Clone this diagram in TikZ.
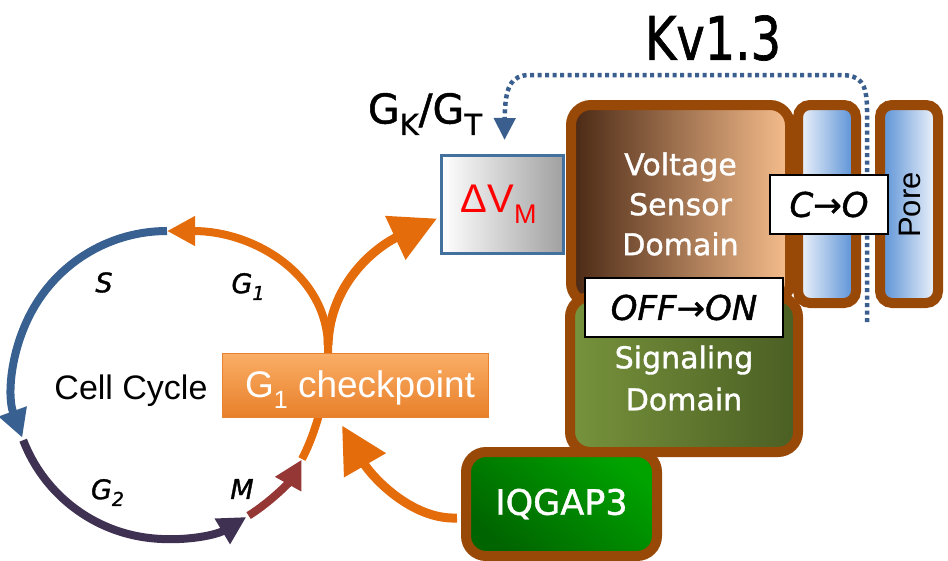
\documentclass[tikz,border=0pt]{standalone}
\usepackage{fontspec}
\setmainfont{Liberation Sans}
\newfontfamily\comic[FakeBold=1.2]{DejaVu Sans}
\usetikzlibrary{arrows.meta,calc,backgrounds}
\definecolor{orng}{HTML}{E46C0A}
\definecolor{cblue}{HTML}{386090}
\definecolor{cpurp}{HTML}{3F3151}
\definecolor{cred}{HTML}{953735}
\definecolor{dotb}{HTML}{3A5F8E}
\definecolor{brd}{HTML}{984807}
\definecolor{cptop}{HTML}{FAAE66}
\definecolor{cpbot}{HTML}{E8802A}
\definecolor{vsdark}{HTML}{4A2814}
\definecolor{vsmid}{HTML}{C4946C}
\definecolor{vslight}{HTML}{F7BE8D}
\definecolor{colblue}{HTML}{558ED5}
\definecolor{colwhite}{HTML}{F4F7FC}
\definecolor{sigl}{HTML}{77933C}
\definecolor{sigr}{HTML}{4A5E23}
\definecolor{iqlight}{HTML}{00A300}
\definecolor{iqdark}{HTML}{006400}
\definecolor{dvb}{HTML}{41719C}
\definecolor{dvgray}{HTML}{A0A0A0}
\newcommand\mysub[3]{\raisebox{#1}{\fontsize{#2}{#2}\selectfont #3}}
\begin{document}
\begin{tikzpicture}[x=1pt,y=-1pt,
  cyc/.style={line width=8pt,-{Triangle[length=28pt,width=28pt]}},
  bigarrow/.style={draw=orng,line width=9pt,-{Triangle[length=46pt,width=46pt]}},
  dotarrow/.style={draw=dotb,line width=4.5pt,dash pattern=on 4pt off 3.5pt,-{Triangle[length=22pt,width=21pt]}},
  brownbox/.style={draw=brd,line width=10pt,rounded corners=20pt,inner sep=0pt,text=white,align=center},
  colbox/.style={draw=brd,line width=10pt,rounded corners=12pt,inner sep=0pt,minimum width=58pt,minimum height=198pt},
  whitebox/.style={draw=black,line width=1.5pt,fill=white,inner sep=0pt,font=\comic\itshape\fontsize{34}{34}\selectfont},
  txt/.style={inner sep=0pt},
  lbl/.style={inner sep=0pt,font=\comic\itshape\fontsize{27}{27}\selectfont}]
\useasboundingbox (0,0) rectangle (948,560);

% ---------- nodes ----------
\node[txt,font=\fontsize{34}{34}\selectfont] (cc) at (131,391) {Cell Cycle};
\node[draw=orng!85,line width=1pt,top color=cptop,bottom color=cpbot,minimum width=266pt,minimum height=64pt,inner sep=0pt] (cp) at (355,385) {};
\node[txt,text=white,font=\fontsize{37}{37}\selectfont] (cptext) at (360,390) {G\mysub{-0.3em}{25}{1} checkpoint};

\node[lbl] (ls) at (104,282.5) {S};
\node[lbl] (lg1) at (248,286.5) {G\mysub{-0.25em}{19}{1}};
\node[lbl] (lg2) at (107.5,492.5) {G\mysub{-0.25em}{19}{2}};
\node[lbl] (lm) at (242,489) {M};

\node[draw=dvb,line width=3pt,left color=white,right color=dvgray,minimum width=122pt,minimum height=98pt,inner sep=0pt,text=red,font=\fontsize{40}{40}\selectfont] (dv) at (502.5,204.5) {$\,$\kern-0.3em ΔV\mysub{-0.28em}{27}{M}};
\node[txt,font=\comic\fontsize{41}{41}\selectfont] (gkgt) at (425,114) {G\mysub{-0.28em}{29}{K}/G\mysub{-0.28em}{29}{T}};
\node[txt,font=\comic\fontsize{60}{60}\selectfont] (kv) at (713,38) {\scalebox{0.8}[1]{Kv1.3}};

\node[colbox,left color=colwhite,right color=colblue] (col1) at (827,204) {};
\node[colbox,left color=colblue,right color=colwhite] (col2) at (909,204) {};
\node[txt,rotate=90,font=\fontsize{31}{31}\selectfont] (pore) at (910,205) {Pore};

\node[brownbox,minimum width=219pt,minimum height=198pt,left color=vsdark,middle color=vsmid,right color=vslight,font=\comic\fontsize{30}{40}\selectfont] (vsd) at (680.5,204) {Voltage\\Sensor\\Domain};
\node[brownbox,minimum width=228pt,minimum height=155pt,left color=sigl,right color=sigr,font=\comic\fontsize{30}{42}\selectfont] (sig) at (684,374.5) {\raisebox{0pt}{}\\[-12pt]Signaling\\Domain};
\node[brownbox,minimum width=191pt,minimum height=104pt,top color=iqlight,bottom color=iqdark,shading angle=-40,font=\comic\fontsize{35}{35}\selectfont] (iq) at (561.5,504) {IQGAP3};

\node[whitebox,minimum width=198pt,minimum height=59pt] (oo) at (684,307.5) {OFF{\upshape →}ON};
\node[whitebox,minimum width=118pt,minimum height=59pt] (co) at (829,204.5) {C{\upshape →}O};

% ---------- coordinates ----------
\coordinate (top) at (167,231);
\coordinate (j) at (328,345);
\coordinate (ostart) at (302,459);
\coordinate (pb) at (867,322);

% ---------- connectors ----------
\begin{pgfonlayer}{background}
\draw[cyc,draw=cblue] (top) arc[start angle=270,end angle=160,radius=154];
\draw[cyc,draw=cpurp] (23.2,440.2) arc[start angle=159,end angle=59,radius=154];
\draw[cyc,draw=cred] (248.6,515.6) arc[start angle=58,end angle=29,radius=154];
\draw[cyc,draw=orng] (ostart) .. controls (318,428) and (329,385) .. (j)
      .. controls (326,275) and (255,231) .. (top);
\draw[bigarrow] (j) .. controls (330,280) and (380,245) .. ($(dv.west)+(-3,14)$);
\draw[bigarrow] ($(iq.west)+(-4,14)$) .. controls (410,520) and (370,474) .. ($(cp.south)+(-13,8)$);
\draw[dotarrow] (pb) -- (867,110) .. controls (867,82) and (860,75) .. (840,75)
      -- (530,75) .. controls (510,75) and (505,88) .. ($(dv.north)+(2,-14)$);
\end{pgfonlayer}
\end{tikzpicture}
\end{document}
